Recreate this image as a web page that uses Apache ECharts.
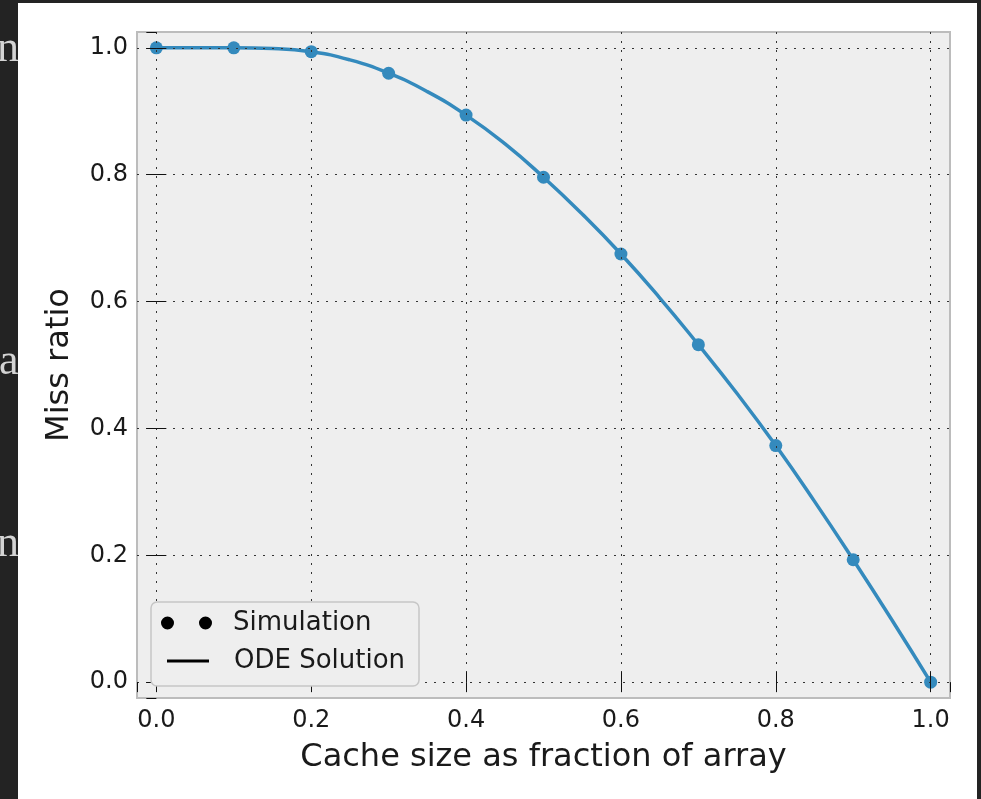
<!DOCTYPE html>
<html>
<head>
<meta charset="utf-8">
<script src="https://cdn.jsdelivr.net/npm/echarts@6/dist/echarts.min.js"></script>
<style>
  html, body { margin: 0; padding: 0; background: #fff; }
  #chart { width: 981px; height: 799px; }
</style>
</head>
<body>
<div id="chart"></div>
<script>
// simulated miss ratios
const simX = [0.0, 0.1, 0.2, 0.3, 0.4, 0.5, 0.6, 0.7, 0.8, 0.9, 1.0];
const simY = [1.0, 1.0, 0.994, 0.960, 0.894, 0.796, 0.675, 0.532, 0.373, 0.193, 0.0];

// ODE curve, every 0.05
const odeX = [0.0, 0.05, 0.1, 0.15, 0.2, 0.25, 0.3, 0.35, 0.4, 0.45, 0.5,
              0.55, 0.6, 0.65, 0.7, 0.75, 0.8, 0.85, 0.9, 0.95, 1.0];
const odeY = [1.0, 1.0, 1.0, 0.999, 0.994, 0.981, 0.960, 0.931, 0.894, 0.849, 0.796,
              0.738, 0.675, 0.606, 0.532, 0.455, 0.373, 0.285, 0.193, 0.098, 0.0];

const seriesNames = ['Simulation', 'ODE Solution'];
const xName = 'Cache size as fraction of array';
const yName = 'Miss ratio';

const FONT = 'DejaVu Sans';
const BLUE = '#348ABD';
const TXT = '#1a1a1a';

const myChart = echarts.init(document.getElementById('chart'));

// one axis per side, ticks pointing in like matplotlib
function makeAxis(pos, main) {
    const ax = {
        type: 'value',
        position: pos,
        min: -0.025,
        max: 1.025,
        z: 3,
        axisLine: { show: false },
        axisTick: { show: true, inside: true, length: 10, lineStyle: { color: '#111', width: 1 } },
        axisLabel: { show: false },
        splitLine: { show: false }
    };
    if (main) {
        ax.axisLabel = {
            show: true,
            fontSize: 24,
            fontFamily: FONT,
            color: TXT,
            showMinLabel: false,
            showMaxLabel: false,
            formatter: v => v.toFixed(1)
        };
        ax.splitLine = {
            show: true,
            showMinLine: false,
            showMaxLine: false,
            lineStyle: { color: '#333', width: 1, type: [2, 7] }
        };
        ax.nameLocation = 'middle';
        ax.nameTextStyle = { fontSize: 32, fontFamily: FONT, color: TXT };
    }
    return ax;
}

const xBottom = makeAxis('bottom', true);
xBottom.axisLabel.margin = 11;
xBottom.name = xName;
xBottom.nameGap = 44;

const yLeft = makeAxis('left', true);
yLeft.axisLabel.margin = 9;
yLeft.name = yName;
yLeft.nameGap = 61;

const legendText = { fontSize: 26, fontFamily: FONT, color: TXT };

const option = {
    backgroundColor: '#ffffff',
    animation: false,
    grid: {
        left: 137,
        right: 31,
        top: 32,
        bottom: 101,
        show: true,
        backgroundColor: '#eeeeee',
        borderColor: '#bcbcbc',
        borderWidth: 2
    },
    xAxis: [xBottom, makeAxis('top', false)],
    yAxis: [yLeft, makeAxis('right', false)],
    legend: [
        {
            left: 161,
            top: 610,
            padding: 0,
            z: 20,
            itemWidth: 67,
            itemHeight: 14,
            textStyle: legendText,
            data: [{
                name: seriesNames[0],
                icon: 'path://M0,0M0,7a6.5,6.5 0 1,0 13,0a6.5,6.5 0 1,0 -13,0zM38,7a6.5,6.5 0 1,0 13,0a6.5,6.5 0 1,0 -13,0zM67,14',
                itemStyle: { color: '#000' }
            }]
        },
        {
            left: 167,
            top: 648,
            padding: 0,
            z: 20,
            itemWidth: 62,
            itemHeight: 14,
            textStyle: legendText,
            data: [{
                name: seriesNames[1],
                icon: 'path://M0,0M0,5.5h42v3h-42zM62,14',
                itemStyle: { color: '#000' },
                lineStyle: { color: '#000' }
            }]
        }
    ],
    graphic: [
        // legend frame
        { type: 'rect', z: 10, shape: { x: 151, y: 602, width: 268, height: 84, r: 6 },
          style: { fill: '#eeeeee', stroke: '#c6c6c6', lineWidth: 1.5 } },
        // dark page edges around the screenshot
        { type: 'rect', z: 100, shape: { x: 0, y: 0, width: 18, height: 799 }, style: { fill: '#232323' } },
        { type: 'rect', z: 100, shape: { x: 0, y: 0, width: 981, height: 3 }, style: { fill: '#232323' } },
        { type: 'rect', z: 100, shape: { x: 977, y: 0, width: 4, height: 799 }, style: { fill: '#232323' } },
        { type: 'text', z: 101, x: -3, y: 49,
          style: { text: 'n', font: '44px "Liberation Serif"', fill: '#d4d4d4', verticalAlign: 'middle' } },
        { type: 'text', z: 101, x: -1, y: 362,
          style: { text: 'a', font: '44px "Liberation Serif"', fill: '#d4d4d4', verticalAlign: 'middle' } },
        { type: 'text', z: 101, x: -3, y: 544,
          style: { text: 'n', font: '44px "Liberation Serif"', fill: '#d4d4d4', verticalAlign: 'middle' } },
        { type: 'rect', z: 102, shape: { x: 18, y: 3, width: 20, height: 796 }, style: { fill: '#ffffff' } }
    ],
    series: [
        {
            name: seriesNames[0],
            type: 'scatter',
            data: simX.map((x, i) => [x, simY[i]]),
            symbolSize: 13,
            itemStyle: { color: BLUE, opacity: 1 },
            z: 2
        },
        {
            name: seriesNames[1],
            type: 'line',
            data: odeX.map((x, i) => [x, odeY[i]]),
            smooth: true,
            showSymbol: false,
            lineStyle: { color: BLUE, width: 3.5 },
            itemStyle: { color: BLUE },
            z: 2
        }
    ]
};

myChart.setOption(option);
window.addEventListener('resize', () => myChart.resize());
</script>
</body>
</html>
